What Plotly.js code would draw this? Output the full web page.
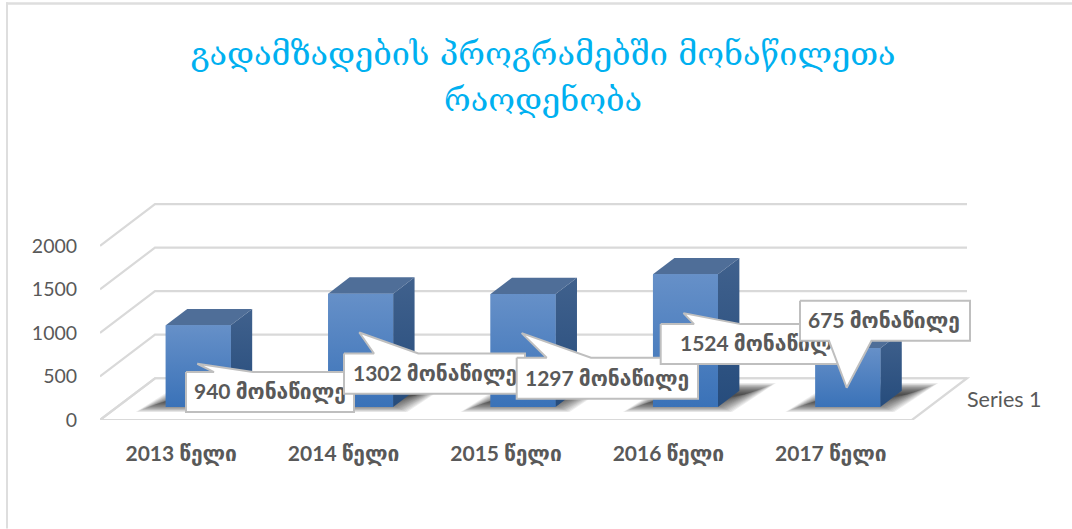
<!DOCTYPE html>
<html><head><meta charset="utf-8">
<script src="https://cdn.plot.ly/plotly-3.0.1.min.js"></script>
<style>html,body{margin:0;padding:0;background:#fff}</style></head>
<body><div id="chart" style="width:1072px;height:529px"></div>
<script>
const titleLines = ["გადამზადების პროგრამებში მონაწილეთა","რაოდენობა"];
const categories = ["2013 წელი","2014 წელი","2015 წელი","2016 წელი","2017 წელი"];
const values = [940,1302,1297,1524,675];
const axisTicks = [0,500,1000,1500,2000];
const seriesName = "Series 1";
const unitLabel = "მონაწილე";

const PXX = 162.4, PXY = 0.0872, X0 = 181.2, Y0 = 420.3;
const L = 100, R = 92, T = 150, B = 529 - Y0;
const xr = [-0.5, -0.5 + (1072 - L - R) / PXX], yr = [0, (Y0 - T) / PXY];
const dX = 55 / PXX, dY = 41.8 / PXY;
const px = p => (p - X0) / PXX, py = p => (Y0 - p) / PXY;
const P = (i, v, d) => [i + d * dX, v + d * dY];
const F0 = 0.31, F1 = 0.70, HW = 0.2;
const GRID = "#D9D9D9", TXT = "#595959";
const FONT = "Lato, 'DejaVu Sans', sans-serif";

const path = pts => "M" + pts.map(p => p[0] + " " + p[1]).join("L") + "Z";
const line = pts => "M" + pts.map(p => p[0] + " " + p[1]).join("L");
const shapes = [];
// frame
shapes.push({type:"rect",xref:"paper",yref:"paper",layer:"below",line:{width:0},fillcolor:"#DEDEDE",
  x0:(6-L)/(1072-L-R),x1:(8-L)/(1072-L-R),y0:(Y0-529)/(Y0-T),y1:(Y0-2)/(Y0-T)});
shapes.push({type:"rect",xref:"paper",yref:"paper",layer:"below",line:{width:0},fillcolor:"#DEDEDE",
  x0:(6-L)/(1072-L-R),x1:(1072-L)/(1072-L-R),y0:(Y0-4.5)/(Y0-T),y1:(Y0-2)/(Y0-T)});
// walls
axisTicks.forEach(v => {
  shapes.push({type:"path",layer:"below",line:{color:GRID,width:2.2},
    path: line([P(-0.5,v,0),P(-0.5,v,1),P(4.5,v,1)])});
});
shapes.push({type:"path",layer:"below",line:{color:GRID,width:2.2},
  path: path([P(-0.5,0,0),P(4.5,0,0),P(4.5,0,1),P(-0.5,0,1)])});
// shadows: soft edge built from nested translucent layers
values.forEach((v,i) => {
  const l = i + F0*dX - HW, r = i + F0*dX + HW, b = F0*dY;
  const N = 18;
  for (let k=0;k<N;k++){
    const t = k/(N-1), inX = t*24/PXX, inY = t*11/PXY;
    shapes.push({type:"path",layer:"below",line:{width:0},fillcolor:"rgba(25,25,25,0.075)",
      path: path([
        [l-30/PXX+inX*1.2, b-5/PXY+inY],
        [r+14/PXX-inX, b-5/PXY+inY],
        [r+58/PXX-inX*1.2, b+24/PXY-inY],
        [l+16/PXX+inX, b+24/PXY-inY]])});
  }
});

const traces = [];
traces.push({type:"bar",x:values.map((_,i)=>i),y:values,base:values.map(()=>F0*dY),width:2*HW,
  offset:F0*dX-HW,marker:{color:"#4A7DBE",line:{width:0}},hoverinfo:"skip",showlegend:false,name:seriesName});
const poly = (pts,extra) => traces.push(Object.assign({type:"scatter",mode:"lines",line:{width:0},fill:"toself",
  x:pts.map(p=>p[0]),y:pts.map(p=>p[1]),hoverinfo:"skip",showlegend:false},extra));
values.forEach((v,i) => {
  const l=i-HW, r=i+HW;
  poly([P(l,v,F0),P(r,v,F0),P(r,v,F1),P(l,v,F1),P(l,v,F0)],{fillcolor:"#4F6E98"});
  poly([P(r,0,F0),P(r,0,F1),P(r,v,F1),P(r,v,F0),P(r,0,F0)],
    {fillgradient:{type:"vertical",colorscale:[[0,"#264C7C"],[1,"#40618D"]]}});
  poly([P(l,0,F0),P(r,0,F0),P(r,v,F0),P(l,v,F0),P(l,0,F0)],
    {fillgradient:{type:"vertical",colorscale:[[0,"#3A72B8"],[1,"#6690C8"]]}});
});
const callouts = [
  {b:[186,354,372.3,412.3],tip:[197.3,364],base:[214,253],side:"t",tx:194,ty:394},
  {b:[344,525,353.7,394],tip:[359.3,332.7],base:[374,418.3],side:"t",tx:353,ty:376},
  {b:[516.7,698,358,399],tip:[521.7,333.3],base:[546.7,591],side:"t",tx:525,ty:381},
  {b:[660.7,841,324.3,364.3],tip:[683.5,313.3],base:[694,740.6],side:"t",tx:680,ty:346},
  {b:[800,970,301,341],tip:[846.7,388],base:[829,871.5],side:"b",tx:808,ty:323}
];
callouts.forEach((c,i) => {
  const [a,b,t,u] = c.b; let pts;
  if (c.side==="t") pts=[[a,t],[c.base[0],t],c.tip,[c.base[1],t],[b,t],[b,u],[a,u],[a,t]];
  else pts=[[a,t],[b,t],[b,u],[c.base[1],u],c.tip,[c.base[0],u],[a,u],[a,t]];
  traces.push({type:"scatter",mode:"lines",fill:"toself",fillcolor:"#FFFFFF",line:{color:"#BFBFBF",width:2},
    x:pts.map(p=>px(p[0])),y:pts.map(p=>py(p[1])),hoverinfo:"skip",showlegend:false});
  traces.push({type:"scatter",mode:"text",x:[px(c.tx)],y:[py(c.ty)],text:["<b>"+values[i]+" "+unitLabel+"</b>"],
    textposition:"middle right",textfont:{family:FONT,size:21,color:TXT},hoverinfo:"skip",showlegend:false,cliponaxis:false});
});

const W = 1072 - L - R;
const layout = {
  width:1072,height:529,paper_bgcolor:"#fff",plot_bgcolor:"rgba(0,0,0,0)",showlegend:false,
  margin:{l:L,r:R,t:T,b:B,autoexpand:false},
  title:{text:titleLines.map(s=>'<span style="font-size:32.4px">'+s+'</span>').join("<br>"),
    font:{family:"'DejaVu Serif','DejaVu Sans',serif",size:36,color:"#00B0F0"},
    xref:"paper",x:(543-L)/W,xanchor:"center",yref:"container",y:1-64.5/529,yanchor:"top"},
  xaxis:{type:"linear",range:xr,tickmode:"array",tickvals:categories.map((_,i)=>i),ticktext:categories.map(c=>"<b>"+c+"</b>"),
    showgrid:false,zeroline:false,showline:false,ticks:"outside",ticklen:15,tickcolor:"rgba(0,0,0,0)",
    tickfont:{family:FONT,size:21,color:TXT},fixedrange:true},
  yaxis:{range:yr,tickmode:"array",tickvals:axisTicks,ticktext:axisTicks.map(String),
    showgrid:false,zeroline:false,showline:false,ticks:"outside",ticklen:18,tickcolor:"rgba(0,0,0,0)",
    tickfont:{family:FONT,size:19.5,color:TXT},fixedrange:true},
  shapes:shapes,
  annotations:[{text:seriesName,xref:"x",yref:"y",x:px(965),y:py(399),xanchor:"left",yanchor:"middle",showarrow:false,
    font:{family:FONT,size:21.5,color:TXT}}]
};
Plotly.newPlot("chart",traces,layout,{displayModeBar:false,responsive:false});
</script></body></html>
